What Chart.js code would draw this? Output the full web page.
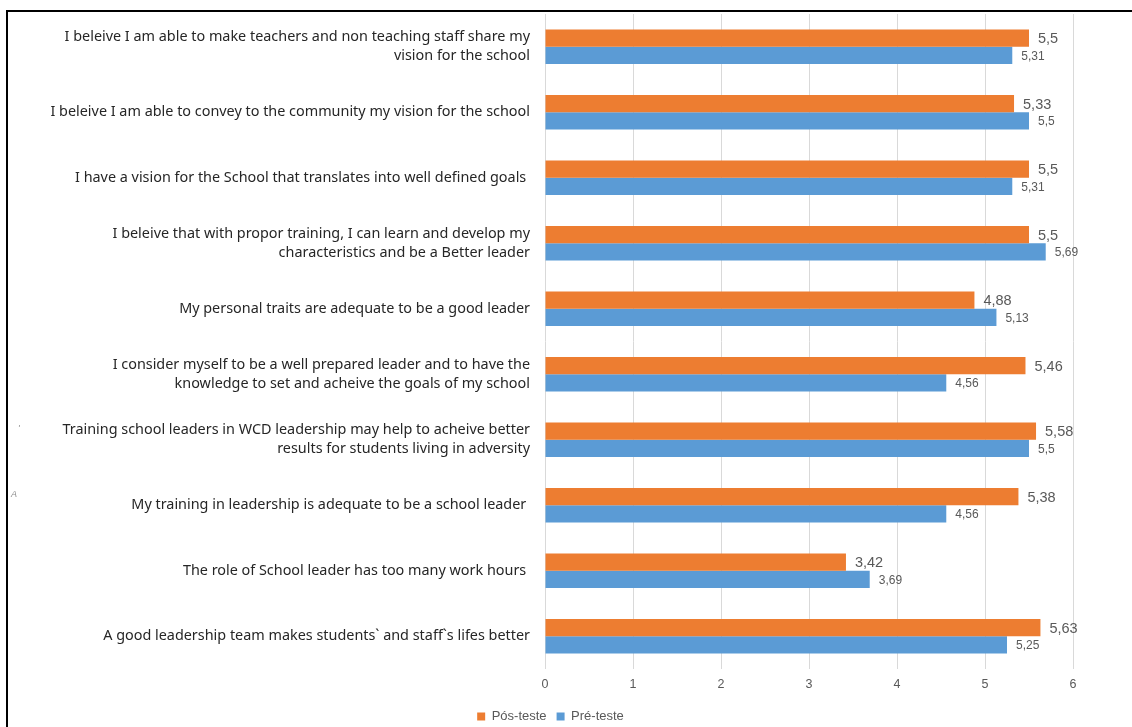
<!DOCTYPE html>
<html>
<head>
<meta charset="utf-8">
<script src="https://cdn.jsdelivr.net/npm/chart.js@4"></script>
<style>
  html, body { margin: 0; padding: 0; background: #fff; }
  #wrap { position: relative; width: 1132px; height: 727px; }
  #frame { position: absolute; left: 6px; top: 10px; width: 1140px; height: 730px;
           border-top: 2px solid #000; border-left: 2px solid #000; pointer-events: none; }
</style>
</head>
<body>
<div id="wrap">
  <canvas id="grafico" width="1132" height="727"></canvas>
  <div id="frame"></div>
</div>
<script>
// datos
const categorias = [
    ["I beleive I am able to make teachers and non teaching staff share my", "vision for the school"],
    "I beleive I am able to convey to the community my vision for the school",
    "I have a vision for the School that translates into well defined goals ",
    ["I beleive that with propor training, I can learn and develop my", "characteristics and be a Better leader"],
    "My personal traits are adequate to be a good leader",
    ["I consider myself to be a well prepared leader and to have the", "knowledge to set and acheive the goals of my school"],
    ["Training school leaders in WCD leadership may help to acheive better", "results for students living in adversity"],
    "My training in leadership is adequate to be a school leader ",
    "The role of School leader has too many work hours ",
    "A good leadership team makes students` and staff`s lifes better"
];
const posTeste = [5.5, 5.33, 5.5, 5.5, 4.88, 5.46, 5.58, 5.38, 3.42, 5.63];
const preTeste = [5.31, 5.5, 5.31, 5.69, 5.13, 4.56, 5.5, 4.56, 3.69, 5.25];
const ticksX = [0, 1, 2, 3, 4, 5, 6];

// etiquetas de valor al final de cada barra
const etiquetas = {
    id: "etiquetas",
    afterLayout(chart) {
        // mover la leyenda un poco a la derecha como en el original
        chart.legend.left += 14;
        chart.legend.right += 14;
    },
    afterDatasetsDraw(chart) {
        let ctx = chart.ctx;
        ctx.save();
        ctx.fillStyle = "#595959";
        ctx.textBaseline = "middle";
        chart.data.datasets.forEach(function (ds, i) {
            let meta = chart.getDatasetMeta(i);
            let size = i === 0 ? 14.5 : 12;
            ctx.font = size + "px 'Liberation Sans', Arial, sans-serif";
            meta.data.forEach(function (barra, j) {
                let txt = String(ds.data[j]).replace(".", ",");
                ctx.fillText(txt, barra.x + 9, barra.y + 1);
            });
        });
        // marcas sueltas del margen izquierdo
        ctx.fillStyle = "#8c8c8c";
        ctx.font = "italic 9px 'Liberation Sans', Arial, sans-serif";
        ctx.fillText("'", 18, 428);
        ctx.fillText("A", 11, 494);
        ctx.restore();
    }
};

let ctx = document.getElementById("grafico");
let grafico = new Chart(ctx, {
    type: "bar",
    data: {
        labels: categorias,
        datasets: [
            {
                label: "Pós-teste",
                data: posTeste,
                backgroundColor: "#ED7D31",
                barPercentage: 1,
                categoryPercentage: 0.53,
            },
            {
                label: "Pré-teste",
                data: preTeste,
                backgroundColor: "#5B9BD5",
                barPercentage: 1,
                categoryPercentage: 0.53,
            },
        ],
    },
    options: {
        indexAxis: "y",
        responsive: false,
        animation: false,
        layout: { padding: { top: 14, right: 59, left: 0, bottom: -6 } },
        scales: {
            x: {
                min: 0,
                max: 6,
                afterBuildTicks: function (axis) {
                    axis.ticks = ticksX.map(function (v) { return { value: v }; });
                },
                grid: { color: "#d9d9d9", drawTicks: false },
                border: { display: false },
                ticks: {
                    padding: 8,
                    color: "#595959",
                    font: { family: "'Liberation Sans', Arial, sans-serif", size: 12.5 },
                },
            },
            y: {
                grid: { display: false, drawTicks: false },
                border: { display: false },
                afterFit: function (axis) {
                    axis.width = 545;
                    axis.paddingTop = 0;
                    axis.paddingBottom = 0;
                },
                ticks: {
                    padding: 15,
                    color: "#262626",
                    font: { family: "'Noto Sans', sans-serif", size: 14.4, lineHeight: 1.3 },
                },
            },
        },
        plugins: {
            legend: {
                position: "bottom",
                labels: {
                    boxWidth: 8,
                    boxHeight: 8,
                    padding: 10,
                    color: "#595959",
                    font: { family: "'Liberation Sans', Arial, sans-serif", size: 13 },
                },
            },
            tooltip: { enabled: false },
        },
    },
    plugins: [etiquetas],
});
</script>
</body>
</html>
